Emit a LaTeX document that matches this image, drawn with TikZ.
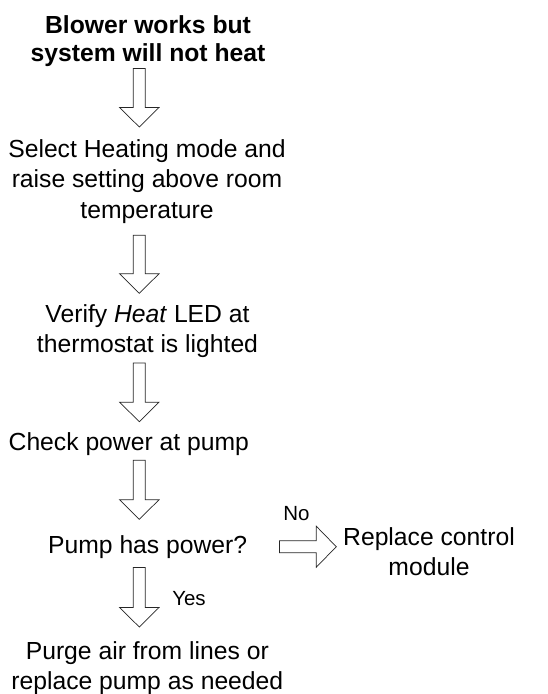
\documentclass[tikz,border=0pt]{standalone}
\usepackage{fontspec}
\setmainfont{Liberation Sans}
\usetikzlibrary{calc}

\tikzset{
	txt/.style={anchor=north, inner sep=0pt, align=center, font=\fontsize{24.7}{30.5}\selectfont},
	ttl/.style={txt, font=\fontsize{24.7}{28.5}\selectfont\bfseries},
	lbl/.style={anchor=base, inner sep=0pt, font=\fontsize{20.5}{23}\selectfont},
	blockdown/.style={draw=black!85, line width=0.7pt, fill=white, to path={
		let \p1=(\tikztostart), \p2=(\tikztotarget) in
		(\x1-6pt,\y1) -- (\x1+6pt,\y1) -- (\x1+6pt,\y2+19.5pt) -- (\x1+19.7pt,\y2+19.5pt)
		-- (\x1,\y2) -- (\x1-19.7pt,\y2+19.5pt) -- (\x1-6pt,\y2+19.5pt) -- cycle}},
	blockright/.style={draw=black!85, line width=0.7pt, fill=white, to path={
		let \p1=(\tikztostart), \p2=(\tikztotarget) in
		(\x1,\y1+6pt) -- (\x2-20pt,\y1+6pt) -- (\x2-20pt,\y1+20.5pt) -- (\x2,\y1)
		-- (\x2-20pt,\y1-20.5pt) -- (\x2-20pt,\y1-6pt) -- (\x1,\y1-6pt) -- cycle}}
}

\begin{document}
\begin{tikzpicture}[x=1pt, y=-1pt]
	\useasboundingbox (0,0) rectangle (548,694);
	\coordinate (col) at (139.3,0);
	% steps
	\node[ttl] (title) at (148,15) {Blower works but\\system will not heat};
	\node[txt] (select) at (147,139) {Select Heating mode and\\raise setting above room\\temperature};
	\node[txt] (verify) at (147.5,304) {Verify \textit{Heat} LED at\\thermostat is lighted};
	\node[txt] (check) at (128.8,432) {Check power at pump};
	\node[txt] (pump) at (147.7,535) {Pump has power?};
	\node[txt] (replace) at (429,527) {Replace control\\module};
	\node[txt] (purge) at (147.3,641) {Purge air from lines or\\replace pump as needed};
	% answers
	\node[lbl] (no) at (296.5,520) {No};
	\node[lbl] (yes) at (189,605) {Yes};
	% block arrows
	\draw[blockdown] ($(title.south -| col)+(0,-1.5pt)$) to ($(select.north -| col)+(0,12pt)$);
	\draw[blockdown] ($(select.south -| col)+(0,-11.8pt)$) to ($(verify.north -| col)+(0,10.7pt)$);
	\draw[blockdown] ($(verify.south -| col)+(0,-5pt)$) to ($(check.north -| col)+(0,10.3pt)$);
	\draw[blockdown] ($(check.south -| col)+(0,-4.8pt)$) to ($(pump.north -| col)+(0,15.7pt)$);
	\draw[blockdown] ($(pump.south -| col)+(0,-9pt)$) to ($(purge.north -| col)+(0,14pt)$);
	\draw[blockright] ($(pump.east)+(32pt,0)$) to ($(pump.east -| replace.west)+(-6.7pt,0)$);
\end{tikzpicture}
\end{document}
